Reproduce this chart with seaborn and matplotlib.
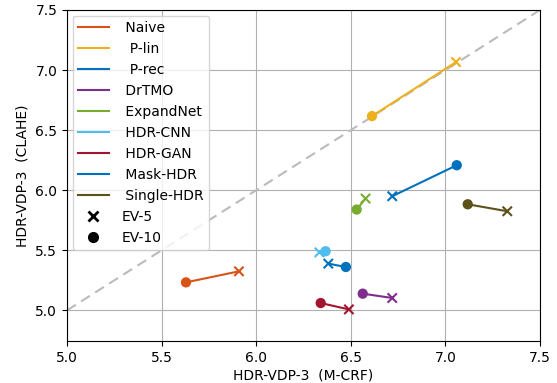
import matplotlib
matplotlib.use("Agg")
import matplotlib.pyplot as plt
import seaborn as sns
import pandas as pd
from matplotlib.lines import Line2D

methods = ["Naive", "P-lin", "P-rec", "DrTMO", "ExpandNet", "HDR-CNN", "HDR-GAN", "Mask-HDR", "Single-HDR"]
labels = [" Naive", "  P-lin", "  P-rec", " DrTMO", " ExpandNet", " HDR-CNN", " HDR-GAN", " Mask-HDR", " Single-HDR"]
colors = ["#D95319", "#EDB120", "#0072BD", "#7E2F8E", "#77AC30", "#4DBEEE", "#A2142F", "#0072BD", "#5B5119"]

# EV-5 (x marker) and EV-10 (circle) values
ev5_x = [5.909, 7.056, 6.381, 6.719, 6.578, 6.334, 6.490, 6.719, 7.327]
ev5_y = [5.325, 7.067, 5.389, 5.103, 5.931, 5.483, 5.008, 5.950, 5.825]
ev10_x = [5.629, 6.612, 6.474, 6.563, 6.531, 6.367, 6.341, 7.060, 7.118]
ev10_y = [5.233, 6.617, 5.361, 5.139, 5.839, 5.492, 5.061, 6.208, 5.883]

x_ticks = [5.0, 5.5, 6.0, 6.5, 7.0, 7.5]
y_ticks = [5.0, 5.5, 6.0, 6.5, 7.0, 7.5]

rows = []
for i, m in enumerate(methods):
    rows.append(dict(method=m, ev="EV-5", x=ev5_x[i], y=ev5_y[i]))
    rows.append(dict(method=m, ev="EV-10", x=ev10_x[i], y=ev10_y[i]))
df = pd.DataFrame(rows)

plt.rcParams["font.family"] = ["DejaVu Sans"]
fig = plt.figure(figsize=(5.57, 3.83), dpi=100)
ax = fig.add_axes([67/557, 1 - 341/383, 473/557, 331/383])
ax.grid(True, color="#b0b0b0", linewidth=0.8, zorder=0)
ax.set_axisbelow(True)

ax.plot([5.0, 7.5], [5.0, 7.5], linestyle=(0, (5, 3)), color="#bbbbbb", linewidth=1.5, zorder=1)

palette = dict(zip(methods, colors))
sns.lineplot(data=df, x="x", y="y", hue="method", units="method", estimator=None,
             sort=False, palette=palette, linewidth=1.5, ax=ax, legend=False, zorder=2)
d5 = df[df.ev == "EV-5"]
d10 = df[df.ev == "EV-10"]
sns.scatterplot(data=d5, x="x", y="y", hue="method", palette=palette, marker="x",
                s=45, linewidth=1.5, ax=ax, legend=False, zorder=3)
sns.scatterplot(data=d10, x="x", y="y", hue="method", palette=palette, marker="o",
                s=55, edgecolor="none", ax=ax, legend=False, zorder=3)

ax.set_xlim(5.0, 7.5)
ax.set_ylim(4.745, 7.5)
ax.set_xticks(x_ticks)
ax.set_yticks(y_ticks)
ax.set_xticklabels([f"{t:.1f}" for t in x_ticks])
ax.set_yticklabels([f"{t:.1f}" for t in y_ticks])
ax.set_xlabel("HDR-VDP-3  (M-CRF)", fontsize=10, labelpad=3)
ax.set_ylabel("HDR-VDP-3  (CLAHE)", fontsize=10, labelpad=4)
ax.tick_params(labelsize=10)

handles = [Line2D([0], [0], color=c, lw=1.5) for c in colors]
handles += [Line2D([0], [0], color="black", marker="x", linestyle="none", markersize=7, markeredgewidth=2),
            Line2D([0], [0], color="black", marker="o", linestyle="none", markersize=7)]
leg = ax.legend(handles, labels + ["EV-5", "EV-10"], loc="upper left", fontsize=10,
                framealpha=0.8, borderaxespad=0.4, labelspacing=0.5, handletextpad=0.9,
                handlelength=2.2)

fig.savefig("out.png", dpi=100)
